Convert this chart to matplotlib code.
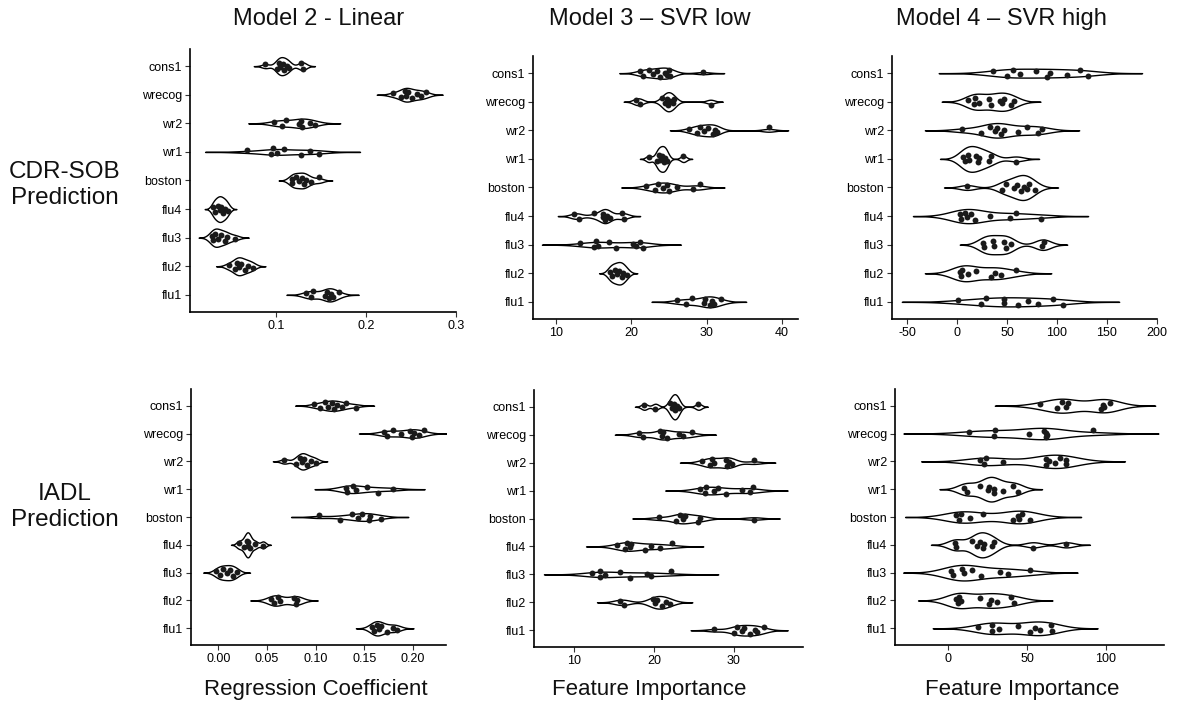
import numpy as np
import matplotlib.pyplot as plt

plt.rcParams['font.family'] = ['Liberation Sans', 'DejaVu Sans']

features = ['cons1', 'wrecog', 'wr2', 'wr1', 'boston', 'flu4', 'flu3', 'flu2', 'flu1']

# Model 2 - Linear, CDR-SOB
lin_cdr = [
    [0.088, 0.101, 0.103, 0.104, 0.107, 0.109, 0.112, 0.114, 0.128, 0.130],
    [0.230, 0.239, 0.243, 0.244, 0.247, 0.251, 0.257, 0.261, 0.267],
    [0.097, 0.106, 0.111, 0.125, 0.127, 0.129, 0.137, 0.143],
    [0.067, 0.094, 0.096, 0.101, 0.109, 0.128, 0.137, 0.147],
    [0.117, 0.118, 0.122, 0.125, 0.129, 0.131, 0.133, 0.139, 0.148],
    [0.030, 0.032, 0.035, 0.037, 0.038, 0.041, 0.043, 0.046],
    [0.029, 0.030, 0.032, 0.035, 0.038, 0.043, 0.045, 0.054],
    [0.047, 0.054, 0.056, 0.059, 0.061, 0.065, 0.069, 0.074],
    [0.133, 0.139, 0.141, 0.154, 0.157, 0.159, 0.161, 0.163, 0.170],
]

# Model 3 - SVR low, CDR-SOB
svr_low_cdr = [
    [21.2, 21.6, 22.3, 22.9, 23.4, 23.8, 24.5, 24.7, 25.0, 25.1, 29.5],
    [20.6, 21.2, 24.0, 24.5, 24.7, 24.9, 25.1, 25.5, 25.7, 30.5],
    [27.7, 28.7, 29.1, 29.6, 30.2, 30.8, 31.1, 31.3, 38.2],
    [22.3, 23.4, 23.6, 23.8, 24.1, 24.3, 24.5, 24.7, 26.9],
    [21.9, 23.1, 23.5, 24.2, 24.7, 25.0, 26.0, 28.2, 29.1],
    [12.4, 13.0, 15.0, 16.2, 16.3, 16.5, 16.7, 17.1, 18.7, 19.0],
    [13.2, 15.0, 15.3, 15.6, 17.0, 18.0, 20.2, 20.6, 21.2, 21.5],
    [17.1, 17.4, 17.8, 18.1, 18.4, 18.7, 18.9, 19.4],
    [26.0, 27.3, 28.0, 29.6, 29.8, 30.4, 30.7, 30.9, 31.9],
]

# Model 4 - SVR high, CDR-SOB
svr_high_cdr = [
    [36, 50, 56, 63, 79, 90, 93, 110, 123, 131],
    [11, 17, 18, 22, 32, 34, 43, 45, 47, 54, 57],
    [5, 24, 33, 38, 40, 44, 47, 61, 70, 81, 85],
    [6, 8, 11, 12, 19, 21, 22, 32, 34, 59],
    [10, 45, 49, 57, 60, 64, 67, 70, 72, 78],
    [3, 4, 8, 10, 14, 18, 33, 53, 59, 84],
    [26, 27, 36, 37, 47, 49, 54, 85, 87],
    [3, 4, 5, 11, 19, 34, 38, 44, 59],
    [1, 24, 29, 47, 47, 61, 71, 81, 96, 106],
]

# Model 2 - Linear, IADL
lin_iadl = [
    [0.098, 0.105, 0.110, 0.113, 0.117, 0.119, 0.122, 0.127, 0.131, 0.141],
    [0.170, 0.173, 0.180, 0.188, 0.197, 0.199, 0.201, 0.206, 0.211],
    [0.068, 0.080, 0.084, 0.086, 0.088, 0.091, 0.095, 0.100],
    [0.131, 0.132, 0.138, 0.141, 0.153, 0.164, 0.180],
    [0.103, 0.125, 0.137, 0.144, 0.148, 0.155, 0.156, 0.167],
    [0.021, 0.026, 0.029, 0.030, 0.031, 0.033, 0.038, 0.046],
    [-0.002, 0.002, 0.005, 0.009, 0.012, 0.015, 0.019],
    [0.054, 0.057, 0.061, 0.063, 0.078, 0.080, 0.081],
    [0.158, 0.160, 0.163, 0.165, 0.167, 0.173, 0.180, 0.184],
]

# Model 3 - SVR low, IADL
svr_low_iadl = [
    [18.8, 20.2, 22.0, 22.3, 22.5, 22.7, 22.9, 23.1, 25.6],
    [18.1, 18.6, 20.8, 21.0, 21.2, 21.6, 23.1, 23.7, 24.8],
    [26.0, 27.0, 27.3, 27.5, 29.0, 29.2, 29.4, 29.8, 32.5],
    [25.8, 26.4, 26.6, 27.5, 28.1, 29.0, 31.0, 32.1, 32.4],
    [20.6, 22.8, 23.3, 23.7, 23.9, 25.6, 25.8, 32.5],
    [15.4, 16.4, 16.7, 17.0, 17.2, 18.9, 19.7, 20.8, 22.3],
    [12.2, 13.2, 13.3, 13.9, 15.7, 17.0, 19.1, 19.6, 22.1],
    [15.7, 16.3, 19.9, 20.1, 20.4, 21.0, 21.5, 22.0],
    [27.6, 30.0, 30.4, 31.0, 31.3, 32.1, 32.7, 32.9, 33.8],
]

# Model 4 - SVR high, IADL
svr_high_iadl = [
    [58, 69, 72, 75, 76, 97, 98, 99, 103],
    [13, 29, 30, 51, 61, 62, 62, 63, 92],
    [20, 23, 24, 35, 62, 62, 64, 68, 71, 75, 75],
    [10, 12, 20, 25, 26, 29, 29, 35, 41, 44],
    [5, 7, 8, 14, 22, 41, 44, 45, 47, 52],
    [4, 5, 15, 18, 20, 22, 23, 28, 29, 54, 75],
    [1.5, 3, 9, 10, 15, 21, 33, 38, 52],
    [5, 6, 7, 8, 20, 26, 27, 31, 40, 42],
    [19, 28, 28, 32, 44, 52, 55, 58, 65, 66],
]

# fixed vertical jitter pattern for the points
JITTER = [0.06, -0.09, 0.12, -0.03, 0.09, -0.12, 0.02, -0.06, 0.11, -0.10, 0.04]

W, H = 1177, 706


def nrd0(x):
    x = np.asarray(x, float)
    q75, q25 = np.percentile(x, [75, 25])
    lo = min(np.std(x, ddof=1), (q75 - q25) / 1.34)
    if lo <= 0:
        lo = np.std(x, ddof=1)
    return 0.9 * lo * len(x) ** -0.2


def density(x):
    x = np.asarray(x, float)
    bw = nrd0(x)
    grid = np.linspace(x.min() - 3 * bw, x.max() + 3 * bw, 512)
    d = np.exp(-0.5 * ((grid[:, None] - x[None, :]) / bw) ** 2).sum(axis=1)
    d /= len(x) * bw * np.sqrt(2 * np.pi)
    return grid, d


def panel(box, groups, xlim, xticks, xticklabels):
    l, t, r, b = box
    ax = fig.add_axes([l / W, 1 - b / H, (r - l) / W, (b - t) / H])
    dens = [density(g) for g in groups]
    dmax = max(d.max() for _, d in dens)
    for i, (g, (grid, d)) in enumerate(zip(groups, dens)):
        y0 = len(groups) - i
        half = 0.45 * d / dmax
        ax.fill_between(grid, y0 - half, y0 + half, facecolor='white',
                        edgecolor='black', linewidth=1.0, zorder=2)
        offs = [JITTER[k % len(JITTER)] for k in range(len(g))]
        ax.scatter(g, y0 + np.array(offs), s=18, color='#1a1a1a',
                   linewidths=0, zorder=3)
    ax.set_xlim(*xlim)
    ax.set_ylim(0.4, len(groups) + 0.6)
    ax.set_yticks(range(len(groups), 0, -1))
    ax.set_yticklabels(features)
    ax.set_xticks(xticks)
    ax.set_xticklabels(xticklabels)
    for s in ['top', 'right']:
        ax.spines[s].set_visible(False)
    for s in ['left', 'bottom']:
        ax.spines[s].set_linewidth(1.2)
        ax.spines[s].set_color('black')
    ax.tick_params(length=3.5, width=0.8, color='#333333', labelsize=9,
                   labelcolor='black', pad=2)
    return ax


fig = plt.figure(figsize=(W / 100, H / 100), dpi=100)

panel((190, 49, 456, 312), lin_cdr, (0.004, 0.300), [0.1, 0.2, 0.3], ['0.1', '0.2', '0.3'])
panel((533, 56, 798, 319), svr_low_cdr, (6.95, 42.1), [10, 20, 30, 40], ['10', '20', '30', '40'])
panel((892, 56, 1157, 319), svr_high_cdr, (-65.4, 200.5), [-50, 0, 50, 100, 150, 200],
      ['-50', '0', '50', '100', '150', '200'])
panel((191, 389, 446, 645), lin_iadl, (-0.0281, 0.234), [0, 0.05, 0.10, 0.15, 0.20],
      ['0.00', '0.05', '0.10', '0.15', '0.20'])
panel((534, 390, 803, 647), svr_low_iadl, (4.98, 38.7), [10, 20, 30], ['10', '20', '30'])
panel((895, 389, 1164, 645), svr_high_iadl, (-33.8, 137), [0, 50, 100], ['0', '50', '100'])


def ftext(x, y, s, size):
    fig.text(x / W, 1 - y / H, s, ha='center', va='center', fontsize=size,
             color='#111111')


ftext(319, 19, 'Model 2 - Linear', 17)
ftext(650, 19, 'Model 3 \u2013 SVR low', 17)
ftext(1001, 19, 'Model 4 \u2013 SVR high', 17)

ftext(316, 690, 'Regression Coefficient', 16)
ftext(649, 690, 'Feature Importance', 16)
ftext(1022, 690, 'Feature Importance', 16)

ftext(65, 185, 'CDR-SOB\nPrediction', 17.5)
ftext(65, 507, 'IADL\nPrediction', 17.5)

fig.savefig('out.png', dpi=100)
